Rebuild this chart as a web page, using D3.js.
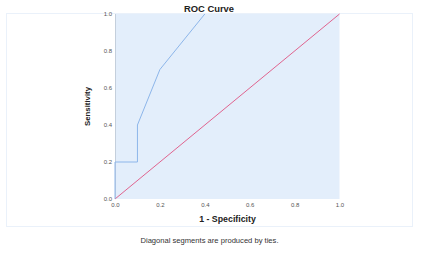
<!DOCTYPE html>
<html><head><meta charset="utf-8">
<script src="https://cdn.jsdelivr.net/npm/d3@7"></script>
<style>html,body{margin:0;padding:0;background:#fff;}svg{display:block;}</style>
</head><body>
<svg id="c" width="428" height="256"></svg>
<script>
const rocFpr = [0.0, 0.0, 0.1, 0.1, 0.2, 0.4];
const rocTpr = [0.0, 0.2, 0.2, 0.4, 0.7, 1.0];
const refFpr = [0.0, 1.0];
const refTpr = [0.0, 1.0];
const ticks = [0.0, 0.2, 0.4, 0.6, 0.8, 1.0];
const title = "ROC Curve";
const xLabel = "1 - Specificity";
const yLabel = "Sensitivity";
const footnote = "Diagonal segments are produced by ties.";

const svg = d3.select("#c");
const L = 115, R = 339.5, T = 14, B = 199;
const x = d3.scaleLinear().domain([0, 1]).range([L, R]);
const y = d3.scaleLinear().domain([0, 1]).range([B, T]);

// outer frame
svg.append("rect").attr("x", 6.5).attr("y", 13.5).attr("width", 406).attr("height", 213)
  .attr("fill", "#fff").attr("stroke", "#eaf1fa").attr("stroke-width", 1);

// plot background
svg.append("rect").attr("x", L).attr("y", T).attr("width", R - L).attr("height", B - T)
  .attr("fill", "#e3eefb");

// left axis line
svg.append("line").attr("x1", L + 0.5).attr("x2", L + 0.5).attr("y1", T).attr("y2", B)
  .attr("stroke", "#c4cfdc").attr("stroke-width", 1);

const line = d3.line().x(d => x(d[0])).y(d => y(d[1]));

svg.append("path").datum(refFpr.map((v, i) => [v, refTpr[i]]))
  .attr("d", line).attr("fill", "none").attr("stroke", "#e0648f").attr("stroke-width", 1);

svg.append("path").datum(rocFpr.map((v, i) => [v, rocTpr[i]]))
  .attr("d", line).attr("fill", "none").attr("stroke", "#8db6ea").attr("stroke-width", 1);

// axes
const xAxis = svg.append("g").attr("transform", `translate(0,${B})`)
  .call(d3.axisBottom(x).tickValues(ticks).tickFormat(d3.format(".1f")).tickSize(0).tickPadding(3.5));
const yAxis = svg.append("g").attr("transform", `translate(${L},0)`)
  .call(d3.axisLeft(y).tickValues(ticks).tickFormat(d3.format(".1f")).tickSize(0).tickPadding(3));
[xAxis, yAxis].forEach(g => {
  g.select(".domain").remove();
  g.selectAll("text").attr("font-family", "Liberation Sans, Arial, sans-serif")
    .attr("font-size", "6px").attr("fill", "#555");
});

svg.append("text").attr("x", 209).attr("y", 11.5).attr("text-anchor", "middle")
  .attr("font-family", "Liberation Sans, Arial, sans-serif").attr("font-weight", "bold")
  .attr("font-size", "9.4px").attr("fill", "#222").text(title);

svg.append("text").attr("x", 227.5).attr("y", 222).attr("text-anchor", "middle")
  .attr("font-family", "Liberation Sans, Arial, sans-serif").attr("font-weight", "bold")
  .attr("font-size", "8.8px").attr("fill", "#222").text(xLabel);

svg.append("text").attr("transform", `translate(90,106.5) rotate(-90)`).attr("text-anchor", "middle")
  .attr("font-family", "Liberation Sans, Arial, sans-serif").attr("font-weight", "bold")
  .attr("font-size", "7.8px").attr("fill", "#222").text(yLabel);

svg.append("text").attr("x", 209.5).attr("y", 243).attr("text-anchor", "middle")
  .attr("font-family", "Liberation Sans, Arial, sans-serif")
  .attr("font-size", "7.6px").attr("fill", "#333").text(footnote);
</script>
</body></html>
